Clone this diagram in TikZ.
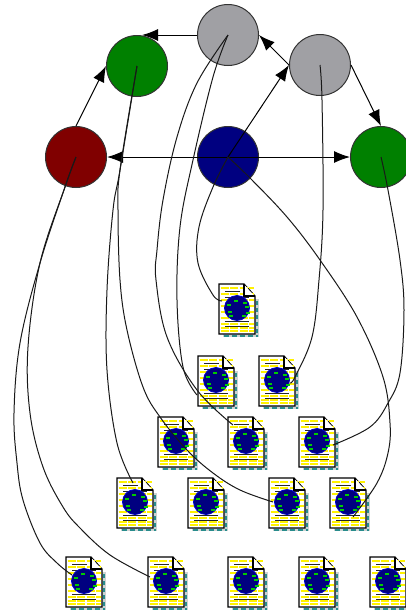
\documentclass[tikz,border=0pt]{standalone}
\usetikzlibrary{arrows.meta}
\definecolor{cred}{RGB}{128,0,0}
\definecolor{cgreen}{RGB}{0,128,0}
\definecolor{cblue}{RGB}{0,0,128}
\definecolor{cgray}{RGB}{160,160,164}
\definecolor{cteal}{RGB}{40,140,140}
\definecolor{cshade}{RGB}{205,210,210}
\tikzset{
  x=1pt,y=-1pt,
  ball/.style={circle,draw=black!80,line width=1pt,minimum size=61pt,inner sep=0pt,fill=#1},
  link/.style={draw=black,line width=1pt,-{Latex[length=16pt,width=12pt]}},
  curve/.style={draw=black!90,line width=1pt},
  docicon/.pic={
    \fill[cshade] (-14,23) rectangle (22,28);
    \fill[cshade] (17,-10) rectangle (22,28);
    \draw[cteal,line width=2pt,dash pattern=on 5pt off 3pt] (-13,26.5) -- (21,26.5);
    \draw[cteal,line width=2pt,dash pattern=on 4pt off 3pt] (20,-8) -- (20,26);
    \filldraw[draw=black,fill=white,line width=1.2pt] (-18,-25) -- (7,-25) -- (18,-13) -- (18,25) -- (-18,25) -- cycle;
    \foreach \yy in {-21,-15,-9,-3,3,9,15,19,22}
      \draw[yellow,line width=1.8pt,dash pattern=on 8pt off 1.5pt] (-16.5,\yy) -- (16.5,\yy);
    \fill[white] (7,-24.5) -- (7,-13) -- (17.5,-13) -- cycle;
    \draw[black,line width=1.2pt] (7,-25) -- (7,-13) -- (18,-13);
    \foreach \yy in {-18,-12,12,17}
      \draw[black!85,line width=1pt] (-12,\yy) -- (\ifnum\yy<-15 3\else 12\fi,\yy);
    \filldraw[draw=blue!80!black,fill=cblue,line width=0.8pt] (0,-1) circle (12.5);
    \foreach \a/\b in {-10/-5,-9/2,-8/6,6/-7,8/-3,9/3,5/6,-3/-9}
      \fill[green!80!black] (\a,\b) rectangle ++(3.5,1.5);
  }
}
\begin{document}
\begin{tikzpicture}
\clip (0,0) rectangle (406,611);
\node[ball=cblue] (blue) at (228,157) {};
\node[ball=cred] (red) at (76,157) {};
\node[ball=cgreen] (gnt) at (137,66) {};
\node[ball=cgreen] (gnr) at (381,157) {};
\node[ball=cgray] (gyt) at (228,35) {};
\node[ball=cgray] (gyr) at (320,65) {};
\foreach \n/\x/\y in {1/237/309,2/216/381,3/277/381,4/176/442,5/246/442,6/317/442,7/135/503,8/206/503,9/287/503,10/348/503,11/84/582,12/166/582,13/246/582,14/317/582,15/388/582}{
  \pic at (\x,\y) {docicon};
  \coordinate (d\n) at (\x,\y);
}
\coordinate (gntop) at (142,35);
\draw[link] (red.north) -- (gnt.west);
\draw[link] (gyt.west) -- (gntop);
\draw[link] (gyr.west) -- (gyt.east);
\draw[link] (gyr.east) -- (gnr.north);
\draw[link] (blue.center) -- (red.east);
\draw[link] (blue.center) -- (gnr.west);
\draw[link] (blue.center) -- (gyr.west);
\draw[curve] plot[smooth,tension=0.6] coordinates {(gnt.center) (120,170) (113,210) (107,290) (107,370) (117,443) (133,483)};
\draw[curve] plot[smooth,tension=0.6] coordinates {(gnt.center) (120,170) (118,210) (120,280) (127,330) (143,387) (160,417) (187,450) (213,473) (240,490) (273,502)};
\draw[curve] plot[smooth,tension=0.6] coordinates {(gyt.center) (197,83) (177,137) (163,200) (157,250) (156,280) (167,337) (197,390) (233,425)};
\draw[curve] plot[smooth,tension=0.6] coordinates {(gyt.center) (213,77) (193,160) (180,227) (177,300) (183,367) (197,395)};
\draw[curve] plot[smooth,tension=0.6] coordinates {(blue.center) (213,187) (199,227) (198,263) (213,295) (222,301)};
\draw[curve] plot[smooth,tension=0.6] coordinates {(blue.center) (250,178) (287,217) (320,260) (357,317) (383,377) (390,423) (388,453) (377,483) (353,517)};
\draw[curve] plot[smooth,tension=0.6] coordinates {(gyr.center) (322,100) (323,210) (319,280) (312,337) (295,377) (290,383)};
\draw[curve] plot[smooth,tension=0.6] coordinates {(gnr.center) (388,190) (400,260) (404,310) (400,373) (388,403) (370,427) (333,445)};
\draw[curve] plot[smooth,tension=0.6] coordinates {(red.center) (65,187) (40,263) (20,343) (14,413) (17,463) (23,500) (40,543) (57,563) (72,575)};
\draw[curve] plot[smooth,tension=0.6] coordinates {(red.center) (65,187) (40,263) (28,347) (30,413) (43,467) (63,507) (80,528) (110,555) (150,577)};
\end{tikzpicture}
\end{document}
